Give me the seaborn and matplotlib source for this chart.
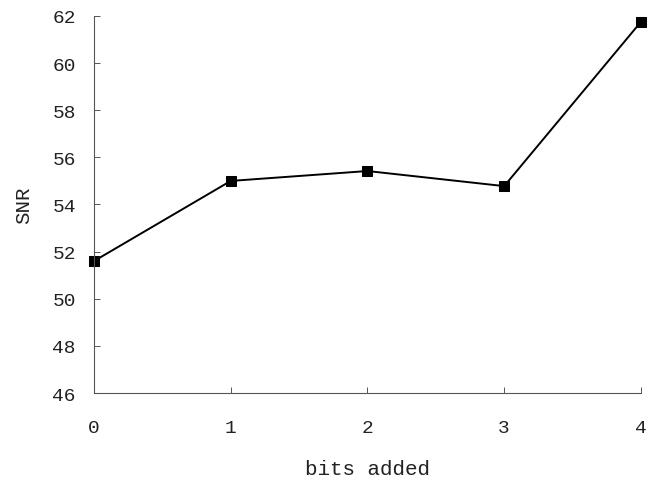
import matplotlib
matplotlib.use('Agg')
import matplotlib.pyplot as plt
import seaborn as sns
import pandas as pd

# Data
bits_added = [0, 1, 2, 3, 4]
snr = [51.6, 55.0, 55.42, 54.78, 61.75]
y_ticks = [46, 48, 50, 52, 54, 56, 58, 60, 62]

df = pd.DataFrame({'bits added': bits_added, 'SNR': snr})

sns.set_style('ticks')
plt.rcParams['font.family'] = ['Liberation Mono', 'DejaVu Sans Mono']

fig, ax = plt.subplots(figsize=(6.52, 4.85), dpi=100)
fig.subplots_adjust(left=0.1442, right=0.983, top=0.965, bottom=0.1876)

sns.lineplot(data=df, x='bits added', y='SNR', ax=ax, color='black', linewidth=1.4,
             marker='s', markersize=7, markerfacecolor='black', markeredgecolor='black',
             clip_on=False)

ax.set_xlim(0, 4)
ax.set_ylim(46, 62)
ax.set_xticks(bits_added)
ax.set_yticks(y_ticks)

sns.despine(ax=ax)
for side in ['left', 'bottom']:
    ax.spines[side].set_color('#555555')
    ax.spines[side].set_linewidth(0.8)

ax.tick_params(axis='both', direction='in', length=4, width=0.7, color='#555555',
               labelsize=14, labelcolor='#222222')
ax.tick_params(axis='y', pad=13)
ax.tick_params(axis='x', pad=19)

ax.set_xlabel('bits added', fontsize=15, color='#222222', labelpad=16)
ax.set_ylabel('SNR', fontsize=15, color='#222222', labelpad=14)

fig.savefig('out.png', dpi=100)
